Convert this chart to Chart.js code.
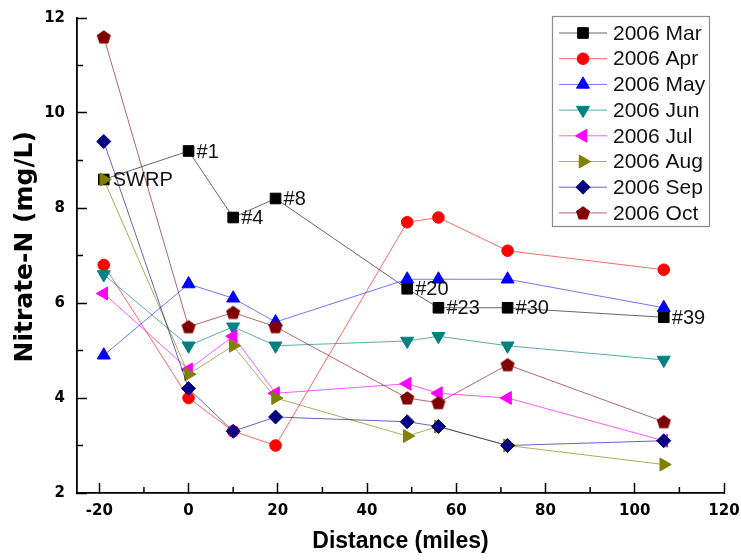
<!DOCTYPE html>
<html><head><meta charset="utf-8">
<script src="https://cdn.jsdelivr.net/npm/chart.js@4/dist/chart.umd.min.js"></script>
<style>html,body{margin:0;padding:0;background:#fff}#wrap{width:741px;height:560px}</style>
</head><body><div id="wrap"><canvas id="c" width="741" height="560"></canvas></div>
<script>
// ---- data ----
const distances = [-19, 0, 10, 19.5, 49, 56, 71.5, 106.5];
const siteLabels = ["SWRP", "#1", "#4", "#8", "#20", "#23", "#30", "#39"];
const seriesNames = ["2006 Mar", "2006 Apr", "2006 May", "2006 Jun", "2006 Jul", "2006 Aug", "2006 Sep", "2006 Oct"];
const mar = [8.6, 9.2, 7.8, 8.2, 6.3, 5.9, 5.9, 5.7];
const apr = [6.8, 4.0, 3.3, 3.0, 7.7, 7.8, 7.1, 6.7];
const may = [4.9, 6.4, 6.1, 5.6, 6.5, 6.5, 6.5, 5.9];
const jun = [6.6, 5.1, 5.5, 5.1, 5.2, 5.3, 5.1, 4.8];
const jul = [6.2, 4.6, 5.3, 4.1, 4.3, 4.1, 4.0, 3.1];
const aug = [8.6, 4.5, 5.1, 4.0, 3.2, 3.4, 3.0, 2.6];
const sep = [9.4, 4.2, 3.3, 3.6, 3.5, 3.4, 3.0, 3.1];
const oct = [11.6, 5.5, 5.8, 5.5, 4.0, 3.9, 4.7, 3.5];
const xTicks = [-20, 0, 20, 40, 60, 80, 100, 120];
const xMinorTicks = [-10, 10, 30, 50, 70, 90, 110];
const yTicks = [2, 4, 6, 8, 10, 12];
const yMinorTicks = [3, 5, 7, 9, 11];

// ---- styles ----
const seriesValues = [mar, apr, may, jun, jul, aug, sep, oct];
const colors = ['#000000', '#ff0000', '#0000ff', '#008080', '#ff00ff', '#808000', '#000080', '#800000'];
const lineColors = ['rgba(0,0,0,0.6)', 'rgba(255,0,0,0.6)', 'rgba(0,0,255,0.55)', 'rgba(0,128,128,0.65)',
  'rgba(255,0,255,0.65)', 'rgba(128,128,0,0.65)', 'rgba(0,0,128,0.6)', 'rgba(128,0,0,0.6)'];

function makePentagon(color) {
  const cv = document.createElement('canvas');
  cv.width = 16; cv.height = 16;
  const g = cv.getContext('2d');
  const r = 7.4, cx = 8, cy = 8.6;
  g.beginPath();
  for (let k = 0; k < 5; k++) {
    const a = -Math.PI / 2 + k * 2 * Math.PI / 5;
    const px = cx + r * Math.cos(a), py = cy + r * Math.sin(a);
    if (k === 0) g.moveTo(px, py); else g.lineTo(px, py);
  }
  g.closePath();
  g.fillStyle = color; g.fill();
  return cv;
}
const pentagon = makePentagon('#800000');
const pointStyles = ['rect', 'circle', 'triangle', 'triangle', 'triangle', 'triangle', 'rectRot', pentagon];
const rotations = [0, 0, 0, 180, 270, 90, 0, 0];
const radii = [7.5, 5.8, 7.5, 7.5, 7.5, 7.5, 7, 7];

const datasets = seriesValues.map((vals, i) => ({
  label: seriesNames[i],
  data: distances.map((d, j) => ({x: d, y: vals[j]})),
  borderColor: lineColors[i],
  borderWidth: 1,
  pointBackgroundColor: colors[i],
  pointBorderColor: colors[i],
  pointBorderWidth: 1,
  pointStyle: pointStyles[i],
  pointRotation: rotations[i],
  pointRadius: radii[i],
  pointHoverRadius: radii[i],
  tension: 0,
  fill: false,
  order: seriesValues.length - i
}));

const FONT = "'Liberation Sans', Arial, sans-serif";
const FONT_BOLD = "'DejaVu Sans', sans-serif";

// minor ticks through scales
const minorTicks = {
  id: 'minorTicks',
  afterDraw(chart) {
    const {ctx, chartArea} = chart;
    const xs = chart.scales.x, ys = chart.scales.y;
    ctx.save();
    ctx.strokeStyle = '#000'; ctx.lineWidth = 1.5;
    ctx.beginPath();
    xMinorTicks.forEach(v => { const p = xs.getPixelForValue(v); ctx.moveTo(p, chartArea.bottom); ctx.lineTo(p, chartArea.bottom - 6); });
    yMinorTicks.forEach(v => { const p = ys.getPixelForValue(v); ctx.moveTo(chartArea.left, p); ctx.lineTo(chartArea.left + 6, p); });
    ctx.stroke();
    ctx.restore();
  }
};

// site labels on the Mar series
const siteLabelPlugin = {
  id: 'siteLabels',
  afterDatasetsDraw(chart) {
    const {ctx} = chart;
    const meta = chart.getDatasetMeta(0);
    ctx.save();
    ctx.font = '20px ' + FONT;
    ctx.fillStyle = '#111';
    ctx.textAlign = 'left';
    ctx.textBaseline = 'middle';
    meta.data.forEach((pt, i) => {
      ctx.fillText(siteLabels[i], pt.x + (i === 0 ? 9 : 8), pt.y + 1);
    });
    ctx.restore();
  }
};

// boxed legend with line + marker samples
const boxLegend = {
  id: 'boxLegend',
  afterDraw(chart) {
    const {ctx} = chart;
    const bx = 552, by = 16, bw = 157, bh = 210;
    ctx.save();
    ctx.fillStyle = '#fff';
    ctx.fillRect(bx, by, bw, bh);
    ctx.strokeStyle = '#8a8a8a'; ctx.lineWidth = 1.2;
    ctx.strokeRect(bx + 0.5, by + 0.5, bw, bh);
    ctx.font = '21px ' + FONT;
    ctx.textBaseline = 'middle';
    ctx.textAlign = 'left';
    chart.data.datasets.forEach((ds, i) => {
      const y = 33 + i * 25.7;
      ctx.strokeStyle = ds.borderColor; ctx.lineWidth = 1;
      ctx.beginPath(); ctx.moveTo(559, y); ctx.lineTo(607, y); ctx.stroke();
      ctx.fillStyle = ds.pointBackgroundColor; ctx.strokeStyle = ds.pointBorderColor;
      if (Chart.helpers && Chart.helpers.drawPoint) {
        Chart.helpers.drawPoint(ctx, {pointStyle: ds.pointStyle, rotation: ds.pointRotation, radius: ds.pointRadius, borderWidth: 1}, 583, y);
      }
      ctx.fillStyle = '#111';
      ctx.fillText(ds.label, 613, y + 1);
    });
    ctx.restore();
  }
};

new Chart(document.getElementById('c'), {
  type: 'line',
  data: {datasets},
  options: {
    responsive: false,
    animation: false,
    events: [],
    layout: {padding: {left: 0, top: 18, right: 17, bottom: 0}},
    plugins: {legend: {display: false}, tooltip: {enabled: false}},
    scales: {
      x: {
        type: 'linear', min: -25, max: 120,
        afterFit: s => { s.height = 67; s.paddingLeft = 0; s.paddingRight = 0; },
        afterBuildTicks: s => { s.ticks = xTicks.map(v => ({value: v})); },
        grid: {drawOnChartArea: false, drawTicks: true, tickLength: -10, tickColor: '#000', tickWidth: 1.5},
        border: {display: true, color: '#000', width: 1.8},
        ticks: {padding: 19, color: '#000', font: {family: FONT_BOLD, size: 15, weight: 'bold'}, maxRotation: 0, callback: v => String(v)},
        title: {display: true, text: 'Distance (miles)', color: '#000', font: {family: FONT, size: 23, weight: 'bold'}, padding: {top: 0, bottom: 5}}
      },
      y: {
        type: 'linear', min: 2, max: 12,
        afterFit: s => { s.width = 77; s.paddingTop = 0; s.paddingBottom = 0; },
        afterBuildTicks: s => { s.ticks = yTicks.map(v => ({value: v})); },
        grid: {drawOnChartArea: false, drawTicks: true, tickLength: -10, tickColor: '#000', tickWidth: 1.5},
        border: {display: true, color: '#000', width: 1.8},
        ticks: {padding: 22, color: '#000', font: {family: FONT_BOLD, size: 15, weight: 'bold'}, callback: v => String(v)},
        title: {display: true, text: '  Nitrate-N (mg/L)', color: '#000', font: {family: FONT_BOLD, size: 25, weight: 'bold'}, padding: {top: 10, bottom: 0}}
      }
    }
  },
  plugins: [minorTicks, siteLabelPlugin, boxLegend]
});
</script>
</body></html>
